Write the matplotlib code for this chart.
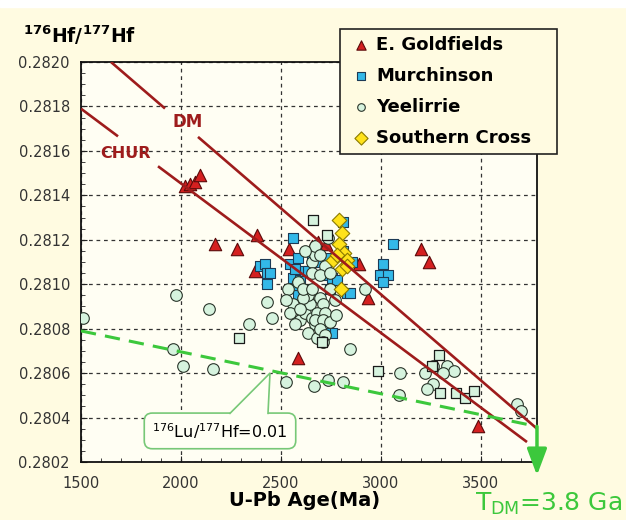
import numpy as np
import matplotlib.pyplot as plt
from matplotlib.patches import Rectangle, Polygon
from matplotlib.ticker import MultipleLocator, FormatStrFormatter

plt.rcParams['font.family'] = ['DejaVu Sans']
plt.rcParams['mathtext.fontset'] = 'dejavusans'

# --- data (age in Ma, 176Hf/177Hf) ---
goldfields_age = [2020, 2045, 2070, 2095, 2170, 2280, 2380, 2370, 2540, 2585,
                  2655, 2685, 2725, 2890, 2935, 3200, 3240, 3485]
goldfields_hf = [0.28144, 0.28145, 0.28146, 0.28149, 0.28118, 0.28116, 0.28122,
                 0.28106, 0.28116, 0.28067, 0.28117, 0.28119, 0.28118, 0.28109,
                 0.28094, 0.28116, 0.28110, 0.28036]

murch_age = [2395, 2420, 2430, 2430, 2445, 2545, 2560, 2560, 2570, 2585, 2580,
             2585, 2595, 2620, 2635, 2655, 2685, 2705, 2735, 2745, 2755, 2780,
             2810, 2810, 2830, 2845, 2855, 2755, 2720, 2995, 3010, 3035, 3010, 3060]
murch_hf = [0.28108, 0.28109, 0.28105, 0.28100, 0.28105, 0.28109, 0.28121,
            0.28103, 0.28107, 0.28112, 0.28099, 0.28095, 0.28102, 0.28106,
            0.28106, 0.28113, 0.28110, 0.28104, 0.28112, 0.28098, 0.28103,
            0.28102, 0.28128, 0.28115, 0.28096, 0.28096, 0.28110, 0.28078,
            0.28078, 0.28104, 0.28109, 0.28104, 0.28101, 0.28118]

yeel_age = [1510, 1975, 2140, 1960, 2010, 2160, 2340, 2430, 2455, 2525, 2665,
            2735, 2810, 2845, 2920, 3095, 3090, 3220, 3260, 3330, 3365, 3310,
            3260, 3230, 3680, 3700,
            2585, 2560, 2545, 2595, 2570, 2620, 2645, 2635, 2610, 2655, 2670,
            2635, 2680, 2610, 2655, 2695, 2710, 2680, 2720, 2670, 2710, 2695,
            2720, 2710, 2745, 2655, 2670, 2655, 2670, 2695, 2720, 2695, 2745,
            2735, 2620, 2535, 2595, 2525, 2770, 2745, 2775]
yeel_hf = [0.28085, 0.28095, 0.28089, 0.28071, 0.28063, 0.28062, 0.28082,
           0.28092, 0.28085, 0.28056, 0.28054, 0.28057, 0.28056, 0.28071,
           0.28098, 0.28060, 0.28050, 0.28060, 0.28063, 0.28063, 0.28061,
           0.28060, 0.28055, 0.28053, 0.28046, 0.28043,
           0.28101, 0.28091, 0.28087, 0.28084, 0.28082, 0.28087, 0.28091,
           0.28095, 0.28094, 0.28085, 0.28082, 0.28078, 0.28076, 0.28098,
           0.28098, 0.28094, 0.28091, 0.28087, 0.28087, 0.28084, 0.28084,
           0.28080, 0.28077, 0.28074, 0.28098, 0.28110, 0.28113, 0.28105,
           0.28117, 0.28113, 0.28108, 0.28104, 0.28105, 0.28121, 0.28115,
           0.28098, 0.28089, 0.28093, 0.28093, 0.28083, 0.28086]

# Yeelirrie grains drawn as squares
yeel_sq_age = [2660, 2730, 2290, 2705, 2985, 3290, 3255, 3295, 3375, 3420, 3465]
yeel_sq_hf = [0.28129, 0.28122, 0.28076, 0.28074, 0.28061, 0.28068, 0.28063,
              0.28051, 0.28051, 0.28049, 0.28052]

scross_age = [2790, 2805, 2790, 2815, 2830, 2760, 2780, 2805, 2830, 2800]
scross_hf = [0.28129, 0.28123, 0.28118, 0.28114, 0.28111, 0.28111, 0.28113,
             0.28107, 0.28108, 0.28098]

# evolution lines: end points and the gap left for the label
dm_ends = ([1650, 3780], [0.28200, 0.28035])
dm_gap = (1920, 2085)
chur_ends = ([1500, 3730], [0.28179, 0.28029])
chur_gap = (1685, 1885)
lu_ends = ([1500, 3780], [0.28079, 0.28036])

dark_red = '#9E1C1C'
green = '#3CC83C'
callout_green = '#77C877'
callout_fill = '#FFFFF4'

fig = plt.figure(figsize=(6.26, 5.2), dpi=100, facecolor='#FFFBE1')
fig.patches.append(Rectangle((0, 1 - 7 / 520), 1, 7 / 520, transform=fig.transFigure,
                             color='white', zorder=0))
ax = fig.add_axes([0.1294, 0.1115, 0.7284, 0.7692])
ax.set_facecolor('#FFFEF3')

ax.scatter(goldfields_age, goldfields_hf, marker='^', s=80, c='#D42020',
           edgecolors='#5A0A0A', linewidths=0.8, zorder=3, label='E. Goldfields')
ax.scatter(murch_age, murch_hf, marker='s', s=60, c='#33B8E8',
           edgecolors='#1C3A55', linewidths=0.8, zorder=3, label='Murchinson')
ax.scatter(yeel_age, yeel_hf, marker='o', s=70, c='#D6F3DE',
           edgecolors='#2A352A', linewidths=0.8, zorder=4, label='Yeelirrie')
ax.scatter(yeel_sq_age, yeel_sq_hf, marker='s', s=60, c='#D6F3DE',
           edgecolors='#1A1A1A', linewidths=0.9, zorder=4, label='_nolegend_')
ax.scatter(scross_age, scross_hf, marker='D', s=55, c='#FFE21A',
           edgecolors='#8A7A00', linewidths=0.8, zorder=5, label='Southern Cross')


def split_line(ends, gap):
    xs = np.array([ends[0][0], gap[0], gap[1], ends[0][1]], dtype=float)
    ys = np.interp(xs, ends[0], ends[1])
    return (xs[:2], ys[:2]), (xs[2:], ys[2:])


for seg in split_line(dm_ends, dm_gap) + split_line(chur_ends, chur_gap):
    ax.plot(seg[0], seg[1], color=dark_red, lw=1.9, zorder=6, solid_capstyle='butt')

ax.plot(lu_ends[0], lu_ends[1], color=green, lw=2.2, ls=(0, (5, 3)), zorder=6)

ax.text(2035, 0.28173, 'DM', color=dark_red, fontsize=12, fontweight='bold',
        ha='center', va='center')
ax.text(1720, 0.28159, 'CHUR', color=dark_red, fontsize=11.5, fontweight='bold',
        ha='center', va='center')

# speech-bubble label for the Lu/Hf = 0.01 line
ax.text(2195, 0.28034, r'$^{176}$Lu/$^{177}$Hf=0.01', ha='center', va='center',
        fontsize=11.5, zorder=7,
        bbox=dict(boxstyle='round,pad=0.5', fc=callout_fill, ec=callout_green, lw=1.2))
tip = (2445, 0.28060)
base_y = 0.280419
base_x = (2245, 2435)
ax.add_patch(Polygon([(base_x[0], base_y - 0.000012), (base_x[0], base_y), tip,
                      (base_x[1], base_y), (base_x[1], base_y - 0.000012)],
                     closed=True, fc=callout_fill, ec='none', zorder=8))
ax.plot([base_x[0], tip[0], base_x[1]], [base_y, tip[1], base_y],
        color=callout_green, lw=1.2, zorder=8, solid_joinstyle='miter')

ax.annotate('', xy=(3780, 0.28014), xytext=(3780, 0.28036), annotation_clip=False,
            arrowprops=dict(arrowstyle='-|>,head_length=0.8,head_width=0.3',
                            color=green, lw=2.5, mutation_scale=20, shrinkA=0, shrinkB=0),
            zorder=8)

ax.set_xlim(1500, 3780)
ax.set_ylim(0.2802, 0.2820)
ax.xaxis.set_major_locator(MultipleLocator(500))
ax.xaxis.set_minor_locator(MultipleLocator(100))
ax.yaxis.set_major_locator(MultipleLocator(0.0002))
ax.yaxis.set_minor_locator(MultipleLocator(0.00005))
ax.yaxis.set_major_formatter(FormatStrFormatter('%.4f'))
ax.tick_params(which='both', direction='in', top=False, right=False,
               labelsize=10.5, labelcolor='#333333', color='#222222')
ax.tick_params(which='major', length=4)
ax.tick_params(which='minor', length=3)
ax.tick_params(axis='y', pad=8)
ax.tick_params(axis='x', pad=10)
ax.grid(True, which='major', color='#333333', lw=0.9, ls=(0, (3, 3)))
ax.set_axisbelow(True)
for sp in ax.spines.values():
    sp.set_linewidth(1.3)
    sp.set_color('#111111')

fig.text(23 / 626, 1 - 43 / 520, r'$^{\mathbf{176}}$Hf/$^{\mathbf{177}}$Hf',
         fontsize=13.5, fontweight='bold', ha='left', va='baseline')
fig.text(305 / 626, 1 - 500 / 520, 'U-Pb Age(Ma)', fontsize=14, fontweight='bold',
         ha='center', va='center')
fig.text(475 / 626, 1 - 511 / 520, r'T$_{\mathregular{DM}}$=3.8 Ga', color=green,
         fontsize=18, ha='left', va='baseline')

leg = fig.legend(loc='upper left', mode='expand',
                 bbox_to_anchor=(340 / 626, 1 - 153 / 520, 217 / 626, 124 / 520),
                 frameon=True, fancybox=False, framealpha=1, edgecolor='#222222',
                 facecolor='#FFFBE1', prop={'weight': 'bold', 'size': 13},
                 handlelength=1.5, handletextpad=0.1, labelspacing=0.72,
                 borderpad=0.4, borderaxespad=0, scatterpoints=1)
leg.get_frame().set_linewidth(1.2)
for h, s in zip(leg.legend_handles, [45, 40, 30, 45]):
    h.set_sizes([s])

fig.savefig('out.png', dpi=100, facecolor=fig.get_facecolor())
